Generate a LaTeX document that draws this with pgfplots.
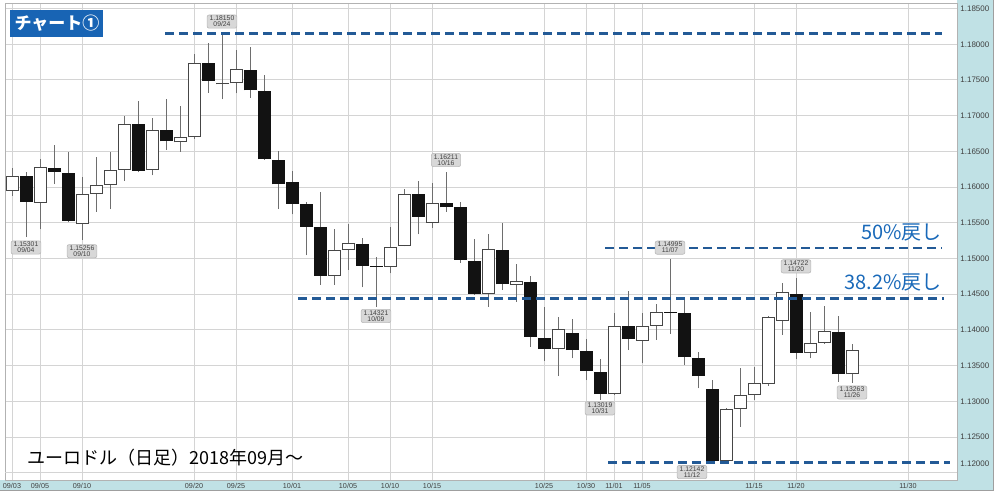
\documentclass[border=0pt]{standalone}
\usepackage{fontspec}
\setmainfont{Liberation Sans}
\newfontfamily\cjk{Noto Sans CJK JP}
\usepackage{pgfplots}
\usepackage{pgfplotstable}
\pgfplotsset{compat=1.18}
\definecolor{strip}{RGB}{192,225,229}
\definecolor{gridc}{RGB}{212,212,212}
\definecolor{fibblue}{RGB}{35,90,150}
\definecolor{txtblue}{RGB}{25,105,185}
\definecolor{titleblue}{RGB}{24,100,180}
\definecolor{wickc}{RGB}{110,110,110}
\definecolor{bodyblack}{RGB}{18,18,18}
\definecolor{outline}{RGB}{70,70,70}
\definecolor{annfill}{RGB}{216,216,216}
\tikzset{annbox/.style={fill=annfill, draw=gray!55, line width=0.3pt, rounded corners=1pt, inner xsep=1.3pt, inner ysep=0.6pt, align=center, font=\fontsize{3.4pt}{3pt}\selectfont, text=black!75}}

\pgfplotstableread{
i open high low close
0 1.15945 1.16267 1.15879 1.16160
1 1.16160 1.16211 1.15301 1.15791
2 1.15781 1.16389 1.15409 1.16277
3 1.16272 1.16585 1.16043 1.16207
4 1.16193 1.16487 1.15507 1.15525
5 1.15483 1.16146 1.15256 1.15903
6 1.15903 1.16426 1.15655 1.16034
7 1.16034 1.16487 1.15693 1.16239
8 1.16239 1.17000 1.16085 1.16880
9 1.16880 1.17210 1.16207 1.16230
10 1.16239 1.16972 1.16165 1.16804
11 1.16800 1.17230 1.16520 1.16641
12 1.16627 1.17136 1.16496 1.16697
13 1.16697 1.17860 1.16680 1.17742
14 1.17742 1.18022 1.17322 1.17490
15 1.17440 1.18150 1.17230 1.17462
16 1.17454 1.17920 1.17314 1.17650
17 1.17640 1.17966 1.17252 1.17356
18 1.17350 1.17570 1.16380 1.16389
19 1.16380 1.16510 1.15693 1.16039
20 1.16076 1.16230 1.15619 1.15767
21 1.15763 1.15795 1.15045 1.15445
22 1.15437 1.15936 1.14629 1.14755
23 1.14755 1.15409 1.14629 1.15119
24 1.15119 1.15483 1.14839 1.15213
25 1.15199 1.15283 1.14597 1.14899
26 1.14899 1.15025 1.14321 1.14885
27 1.14885 1.15437 1.14793 1.15165
28 1.15175 1.15978 1.15170 1.15903
29 1.15903 1.16090 1.15339 1.15585
30 1.15501 1.16053 1.15431 1.15773
31 1.15773 1.16211 1.15655 1.15717
32 1.15717 1.15795 1.14941 1.14979
33 1.14965 1.15269 1.14495 1.14503
34 1.14503 1.15343 1.14325 1.15129
35 1.15119 1.15501 1.14559 1.14639
36 1.14633 1.14923 1.14395 1.14685
37 1.14675 1.14755 1.13765 1.13905
38 1.13891 1.14325 1.13568 1.13732
39 1.13728 1.14185 1.13354 1.14012
40 1.13961 1.14148 1.13602 1.13718
41 1.13704 1.13868 1.13298 1.13428
42 1.13414 1.13588 1.13019 1.13102
43 1.13098 1.14232 1.13090 1.14059
44 1.14055 1.14549 1.13718 1.13872
45 1.13849 1.14232 1.13532 1.14055
46 1.14055 1.14363 1.13859 1.14246
47 1.14256 1.14995 1.13943 1.14246
48 1.14232 1.14443 1.13508 1.13616
49 1.13602 1.13695 1.13182 1.13354
50 1.13168 1.13298 1.12142 1.12168
51 1.12168 1.12900 1.12160 1.12888
52 1.12888 1.13462 1.12644 1.13088
53 1.13088 1.13485 1.13020 1.13252
54 1.13238 1.14195 1.13214 1.14176
55 1.14129 1.14653 1.13929 1.14527
56 1.14503 1.14722 1.13588 1.13681
57 1.13681 1.14255 1.13602 1.13821
58 1.13821 1.14335 1.13809 1.13984
59 1.13975 1.14199 1.13274 1.13378
60 1.13378 1.13809 1.13263 1.13718
}\ohlc

\begin{document}
\begin{tikzpicture}
\useasboundingbox (0,0) rectangle (500pt,249pt);
\fill[strip] (0,4pt) rectangle (496.5pt,9pt);
\fill[strip] (478.5pt,4pt) rectangle (496.5pt,249pt);
\draw[gray!75, line width=0.5pt] (0,4pt) -- (496.5pt,4pt) -- (496.5pt,249pt);
\begin{axis}[
  at={(2.5pt,9pt)}, anchor=south west,
  width=476pt, height=238pt, scale only axis,
  xmin=-0.5, xmax=67.5, ymin=1.118978, ymax=1.185644,
  axis line style={gray!60, line width=0.5pt},
  grid=major, major grid style={gridc, line width=0.5pt},
  major tick length=0pt,
  xtick={0,2,5,13,16,20,24,27,30,38,41,43,45,53,56,64},
  xticklabels={09/03,09/05,09/10,09/20,09/25,10/01,10/05,10/10,10/15,10/25,10/30,11/01,11/05,11/15,11/20,11/30},
  xticklabel style={font=\fontsize{3.6pt}{4pt}\selectfont, text=black!75, inner sep=0pt, anchor=north, yshift=-1.2pt},
  ytick={1.125,1.130,1.135,1.140,1.145,1.150,1.155,1.160,1.165,1.170,1.175,1.180,1.185},
  extra y ticks={1.12},
  extra y tick style={yticklabel style={yshift=4.5pt}},
  yticklabel pos=right,
  yticklabel style={font=\fontsize{4pt}{4.5pt}\selectfont, text=black!75, anchor=west, inner sep=0pt, xshift=1.5pt,
    /pgf/number format/fixed, /pgf/number format/fixed zerofill, /pgf/number format/precision=5, /pgf/number format/assume math mode=true},
]
% wicks
\addplot[draw=none, mark=none, forget plot,
  error bars/.cd, y dir=plus, y explicit, error mark=none,
  error bar style={draw=wickc, line width=0.5pt, solid}]
  table[x=i, y=low, y error expr=\thisrow{high}-\thisrow{low}] {\ohlc};
% black bodies
\addplot[draw=none, mark=none, forget plot, restrict y to domain=1.1:1.2,
  error bars/.cd, y dir=plus, y explicit, error mark=none,
  error bar style={draw=bodyblack, line width=6.5pt, solid}]
  table[x=i, y expr={ifthenelse(\thisrow{close}<\thisrow{open},\thisrow{close},0)}, y error expr={\thisrow{open}-\thisrow{close}}] {\ohlc};
% white bodies: outline
\addplot[draw=none, mark=none, forget plot, restrict y to domain=1.1:1.2,
  error bars/.cd, y dir=plus, y explicit, error mark=none,
  error bar style={draw=outline, line width=6.5pt, solid}]
  table[x=i, y expr={ifthenelse(\thisrow{close}>=\thisrow{open},\thisrow{open},0)}, y error expr={\thisrow{close}-\thisrow{open}}] {\ohlc};
% white bodies: fill
\addplot[draw=none, mark=none, forget plot, restrict y to domain=1.1:1.2,
  error bars/.cd, y dir=plus, y explicit, error mark=none,
  error bar style={draw=white, line width=5.5pt, solid}]
  table[x=i, y expr={ifthenelse(\thisrow{close}-\thisrow{open}>0.0003,\thisrow{open}+0.00014,0)}, y error expr={\thisrow{close}-\thisrow{open}-0.00028}] {\ohlc};
% retracement lines
\addplot[fibblue, line width=1.3pt, dash pattern=on 4.5pt off 2.5pt] coordinates {(10.93,1.1815) (66.43,1.1815)};
\addplot[fibblue, line width=1.3pt, dash pattern=on 4.5pt off 2.5pt] coordinates {(42.36,1.15146) (66.43,1.15146)};
\addplot[fibblue, line width=1.3pt, dash pattern=on 4.5pt off 2.5pt] coordinates {(20.43,1.14437) (66.6,1.14437)};
\addplot[fibblue, line width=1.3pt, dash pattern=on 4.5pt off 2.5pt] coordinates {(42.6,1.12142) (67.0,1.12142)};
% labels of extremes
\node[annbox, yshift=6pt] at (axis cs:15,1.18150) {1.18150\\09/24};
\node[annbox, yshift=-5.25pt] at (axis cs:1,1.15301) {1.15301\\09/04};
\node[annbox, yshift=-5.5pt] at (axis cs:5,1.15256) {1.15256\\09/10};
\node[annbox, yshift=6pt] at (axis cs:31,1.16211) {1.16211\\10/16};
\node[annbox, yshift=-4.5pt] at (axis cs:26,1.14321) {1.14321\\10/09};
\node[annbox, yshift=-4.2pt] at (axis cs:42,1.13019) {1.13019\\10/31};
\node[annbox, yshift=5.6pt] at (axis cs:47,1.14995) {1.14995\\11/07};
\node[annbox, yshift=-4.75pt, xshift=-10pt] at (axis cs:50,1.12142) {1.12142\\11/12};
\node[annbox, yshift=6pt] at (axis cs:56,1.14722) {1.14722\\11/20};
\node[annbox, yshift=-5pt] at (axis cs:60,1.13263) {1.13263\\11/26};
% texts
\node[anchor=east, text=txtblue, font=\cjk\fontsize{10pt}{11pt}\selectfont, inner sep=0pt] at (axis cs:66.43,1.15371) {50\%戻し};
\node[anchor=east, text=txtblue, font=\cjk\fontsize{10pt}{11pt}\selectfont, inner sep=0pt] at (axis cs:66.43,1.14657) {38.2\%戻し};
\node[anchor=west, font=\cjk\fontsize{9pt}{10pt}\selectfont, inner sep=0pt] at (axis cs:1.07,1.12205) {ユーロドル（日足）2018年09月～};
\node[fill=titleblue, text=white, font=\cjk\bfseries\fontsize{8.5pt}{9pt}\selectfont, minimum width=46.5pt, minimum height=13.5pt, inner sep=0pt] at (axis cs:3.214,1.182913) {チャート①};
\end{axis}
\end{tikzpicture}
\end{document}
